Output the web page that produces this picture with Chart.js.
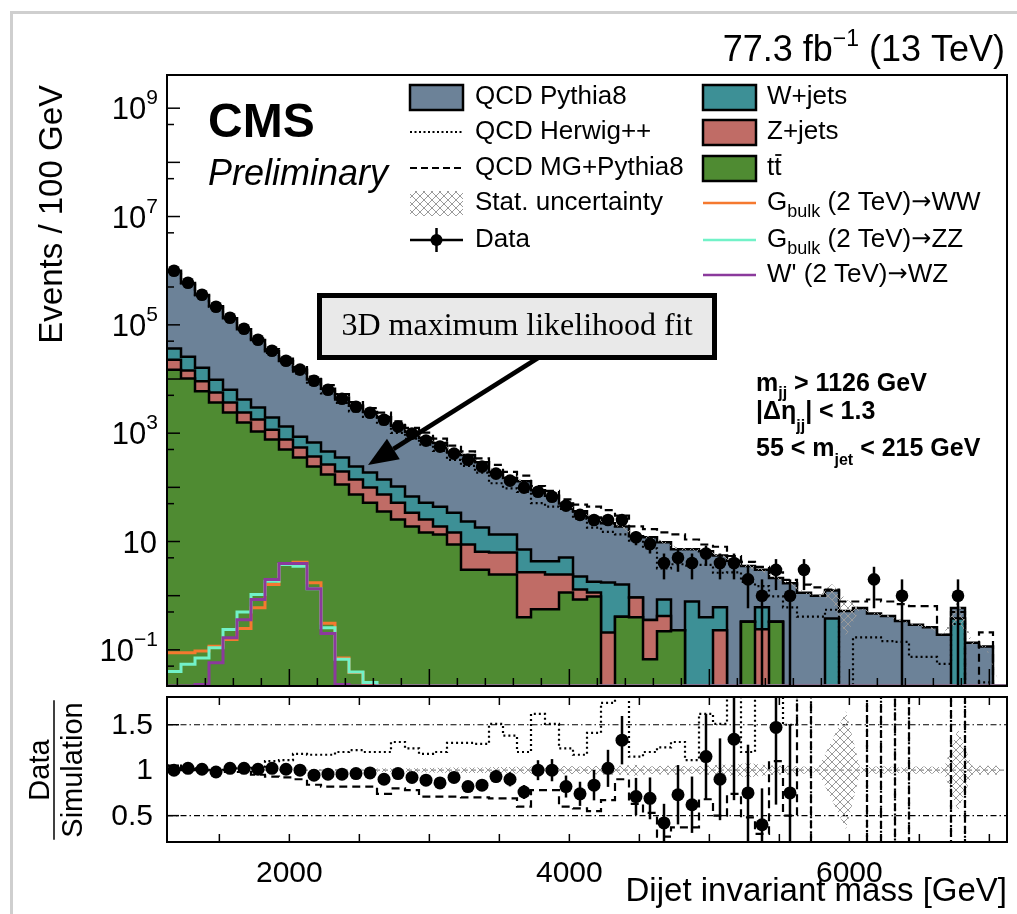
<!DOCTYPE html>
<html>
<head>
<meta charset="utf-8">
<script src="https://cdn.jsdelivr.net/npm/chart.js@4.4.1/dist/chart.umd.min.js"></script>
<style>
  html, body { margin: 0; padding: 0; background: #fff; }
  #wrap { position: relative; width: 1017px; height: 914px; overflow: hidden; background: #fff; }
  #wrap canvas { position: absolute; left: 0; }
  #main { top: 0; }
  #ratio { top: 690px; }
  .edge { position: absolute; background: #cfcfcf; }
</style>
</head>
<body>
<div id="wrap">
  <div class="edge" style="left:10px; top:11px; width:1007px; height:3px;"></div>
  <div class="edge" style="left:10px; top:11px; width:3px; height:903px;"></div>
  <canvas id="main" width="1017" height="700"></canvas>
  <canvas id="ratio" width="1017" height="224"></canvas>
</div>
<script>
const SANS = '"Liberation Sans", Arial, Helvetica, sans-serif'
const SERIF = '"Liberation Serif", "Times New Roman", serif'
const ARROW = '"DejaVu Sans", sans-serif'

// 100 GeV bins from the m_jj threshold
const massMin = 1126
const massMax = 7126
const binWidth = 100
const binLow = Array.from({ length: 60 }, (_, i) => massMin + binWidth * i)
const centers = binLow.map(m => m + binWidth / 2)

const dataCounts = [
  1000000, 598000, 359000, 216000, 135000, 84700, 53100, 33300, 21800, 14900,
  9300, 6350, 4330, 3080, 2390, 1770, 1320, 980, 728, 564,
  419, 324, 241, 179, 133, 99, 83, 67, 46, 31,
  25, 25, 25, 12, 9, 4, 5, 4, 6, 4,
  4, 2, 1, 3, 1, 3, 0, 0, 0, 0,
  2, 0, 1, 0, 0, 0, 1, 0, 0, 0
]

const qcdPythia8 = [
  963000, 564000, 339000, 210000, 126000, 78800, 49500, 30700, 20300, 14000,
  9130, 6140, 4150, 2960, 2270, 1830, 1270, 997, 766, 612,
  421, 372, 271, 179, 135, 123, 84, 66, 45, 34,
  26, 20, 17.4, 11.6, 11.6, 8.8, 7.0, 6.4, 6.2, 4.9,
  4.4, 3.2, 2.4, 1.8, 1.7, 1.13, 1.0, 0.86, 0.52, 0.59,
  0.47, 0.42, 0.34, 0.29, 0.26, 0.19, 0.21, 0.135, 0.115, 0
]

const wJets = [
  13600, 11600, 7100, 4100, 2700, 1770, 1190, 780, 560, 320,
  300, 194, 159, 103, 89, 65, 52, 34, 26.5, 25,
  19.3, 14.6, 11.6, 7.2, 7.2, 4.4, 1.6, 1.84, 2.6, 0.96,
  0.65, 1.54, 1.2, 0, 0, 0.43, 0, 0.78, 0.40, 0.38,
  0, 0, 0.37, 0, 0, 0, 0, 0.38, 0, 0,
  0, 0, 0, 0, 0, 0, 0.38, 0, 0, 0
]

const zJets = [
  7900, 4100, 3150, 1940, 1270, 830, 710, 398, 264, 187,
  128, 92, 83, 65, 47, 38, 26.5, 15.1, 10.8, 5.4,
  5.9, 5.8, 3.5, 3.84, 3.84, 2.3, 2.14, 1.9, 1.31, 0.45,
  0.18, 0.21, 0, 0.53, 0.29, 0.2, 0, 0, 0, 0.23,
  0, 0, 0.24, 0, 0, 0, 0, 0, 0, 0,
  0, 0, 0, 0, 0, 0, 0, 0, 0, 0
]

const ttbar = [
  14900, 10200, 5930, 3670, 2400, 1570, 1070, 762, 498, 355,
  242, 172, 113, 74, 52, 36, 25.5, 18.9, 14.7, 13.5,
  8.8, 3.0, 3.0, 2.46, 2.46, 0.40, 0.56, 0.56, 1.15, 0.85,
  0.97, 0, 0.41, 0.40, 0.067, 0.22, 0.23, 0, 0, 0,
  0, 0.33, 0, 0.33, 0, 0, 0, 0, 0, 0,
  0, 0, 0, 0, 0, 0, 0, 0, 0, 0
]

const qcdHerwig = [
  952000, 581000, 352000, 216000, 132000, 83000, 51000, 30300, 19600, 12600,
  7950, 5430, 3610, 2520, 1990, 1475, 1010, 790, 617, 470,
  322, 249, 187, 119, 96, 82, 51, 44, 40, 26.5,
  18, 15, 13.5, 10.4, 7.5, 3.2, 3.8, 3.6, 3.7, 2.65,
  2.7, 1.8, 1.5, 0.97, 0.61, 0.41, 0.41, 0.55, 0, 0.17,
  0.17, 0.145, 0.14, 0.074, 0.074, 0.055, 0.3, 0, 0.025, 0
]

const qcdMadgraph = [
  952000, 598000, 359000, 223000, 138000, 86400, 55900, 35800, 23700, 16600,
  11070, 7740, 5280, 3760, 2910, 2390, 1650, 1256, 1025, 794,
  590, 463, 344, 259, 193, 165, 106, 86, 60, 48,
  44, 38, 30, 19, 17, 14.7, 13.5, 10.9, 8.8, 8.0,
  5.4, 4.2, 3.4, 2.7, 1.95, 1.6, 1.42, 1.3, 0.78, 0.78,
  0.85, 0.78, 0.7, 0.64, 0.64, 0.19, 0.5, 0, 0.21, 0
]

// relative MC statistical uncertainty per bin
const statUnc = [
  0.002, 0.002, 0.003, 0.003, 0.004, 0.005, 0.006, 0.007, 0.008, 0.01,
  0.01, 0.012, 0.014, 0.015, 0.017, 0.02, 0.02, 0.022, 0.025, 0.027,
  0.03, 0.03, 0.03, 0.035, 0.035, 0.04, 0.04, 0.04, 0.045, 0.04,
  0.045, 0.05, 0.05, 0.06, 0.04, 0.05, 0.05, 0.04, 0.05, 0.06,
  0.06, 0.08, 0.06, 0.05, 0.05, 0.04, 0.02, 0.33, 0.65, 0.03,
  0.04, 0.04, 0.03, 0.04, 0.04, 0.03, 0.45, 0.05, 0.05, 0.05
]

const bulkGravWW = [
  0.088, 0.088, 0.095, 0.117, 0.156, 0.248, 0.60, 1.61, 3.77, 4.15,
  1.73, 0.31, 0.071, 0.038, 0.023, 0, 0, 0, 0, 0,
  0, 0, 0, 0, 0, 0, 0, 0, 0, 0,
  0, 0, 0, 0, 0, 0, 0, 0, 0, 0,
  0, 0, 0, 0, 0, 0, 0, 0, 0, 0,
  0, 0, 0, 0, 0, 0, 0, 0, 0, 0
]

const bulkGravZZ = [
  0.040, 0.054, 0.071, 0.109, 0.238, 0.50, 1.05, 1.85, 3.77, 3.50,
  1.34, 0.256, 0.067, 0.039, 0.025, 0, 0, 0, 0, 0,
  0, 0, 0, 0, 0, 0, 0, 0, 0, 0,
  0, 0, 0, 0, 0, 0, 0, 0, 0, 0,
  0, 0, 0, 0, 0, 0, 0, 0, 0, 0,
  0, 0, 0, 0, 0, 0, 0, 0, 0, 0
]

const wprimeWZ = [
  0, 0, 0.023, 0.058, 0.167, 0.36, 0.85, 1.99, 3.93, 3.93,
  1.34, 0.20, 0.023, 0, 0, 0, 0, 0, 0, 0,
  0, 0, 0, 0, 0, 0, 0, 0, 0, 0,
  0, 0, 0, 0, 0, 0, 0, 0, 0, 0,
  0, 0, 0, 0, 0, 0, 0, 0, 0, 0,
  0, 0, 0, 0, 0, 0, 0, 0, 0, 0
]

const ratioData = [
  1.0, 1.02, 1.01, 0.98, 1.02, 1.02, 1.01, 1.02, 1.01, 1.0,
  0.945, 0.956, 0.956, 0.963, 0.97, 0.90, 0.963, 0.92, 0.89, 0.86,
  0.92, 0.82, 0.835, 0.93, 0.90, 0.76, 1.0, 1.0, 0.82, 0.74,
  0.835, 1.02, 1.33, 0.71, 0.69, 0.42, 0.73, 0.62, 1.15, 0.90,
  1.34, 0.75, 0.40, 1.47, 0.75, null, null, null, null, null,
  null, null, null, null, null, null, null, null, null, null
]

const ratioHerwig = [
  1.05, 1.03, 1.02, 1.0, 1.02, 1.02, 1.04, 1.10, 1.11, 1.18,
  1.17, 1.17, 1.20, 1.22, 1.20, 1.20, 1.31, 1.24, 1.18, 1.20,
  1.30, 1.30, 1.29, 1.51, 1.38, 1.20, 1.62, 1.51, 1.24, 1.17,
  1.41, 1.74, 1.9, 1.15, 1.20, 1.25, 1.31, 1.11, 1.62, 1.51,
  1.9, 1.2, 1.9, 1.9, 1.5, 1.9, 0, 0, 0, 0,
  1.9, 0, 1.9, 0, 0, 0, 1.9, 0, 0, 0
]

const ratioMadgraph = [
  1.05, 1.0, 1.0, 0.97, 0.98, 0.98, 0.95, 0.93, 0.92, 0.90,
  0.84, 0.82, 0.82, 0.82, 0.82, 0.74, 0.80, 0.78, 0.71, 0.71,
  0.71, 0.70, 0.70, 0.69, 0.69, 0.60, 0.78, 0.78, 0.60, 0.58,
  0.55, 0.67, 0.9, 0.63, 0.53, 0.27, 0.37, 0.37, 0.68, 0.5,
  0.74, 0.48, 0.3, 1.1, 0.5, 1.9, 0, 0, 0, 0,
  1.9, 0, 1.9, 0, 0, 0, 1.9, 0, 0, 0
]

const decadeLabels = [9, 7, 5, 3, 1, -1]
const xLabelTicks = [2000, 4000, 6000]
const ratioTicks = [0.5, 1, 1.5]

const yMin = 0.0215
const yMax = 4.1e9
const ratioMin = 0.21
const ratioMax = 1.805

const colors = {
  qcd: '#6c8298',
  wjets: '#3d9096',
  zjets: '#c06c66',
  ttbar: '#4f8b32',
  ww: '#f5792f',
  zz: '#72f2c8',
  wz: '#8b3a9c',
  box: '#e9e9e9'
}

Chart.defaults.font.family = SANS

// cumulative stack tops, bottom to top: ttbar, Z+jets, W+jets, QCD
const stackZ = ttbar.map((v, i) => v + zJets[i])
const stackW = stackZ.map((v, i) => v + wJets[i])
const stackAll = stackW.map((v, i) => v + qcdPythia8[i])

function stepLine (values, floor) {
  const pts = []
  values.forEach((v, i) => {
    const y = floor === undefined ? v : (v > 0 ? v : floor)
    pts.push({ x: binLow[i], y }, { x: binLow[i] + binWidth, y })
  })
  return pts
}

function makeHatch (canvas) {
  const tile = document.createElement('canvas')
  tile.width = 8
  tile.height = 8
  const g = tile.getContext('2d')
  g.strokeStyle = '#9a9a9a'
  g.lineWidth = 1
  g.beginPath()
  g.moveTo(0, 0); g.lineTo(8, 8)
  g.moveTo(8, 0); g.lineTo(0, 8)
  g.stroke()
  return canvas.getContext('2d').createPattern(tile, 'repeat')
}

function richText (ctx, x, y, parts, align) {
  let total = 0
  parts.forEach(p => {
    ctx.font = p.font
    p.w = ctx.measureText(p.t).width
    total += p.w
  })
  let cx = align === 'right' ? x - total : align === 'center' ? x - total / 2 : x
  parts.forEach(p => {
    ctx.font = p.font
    ctx.fillText(p.t, cx, y + (p.dy || 0))
    cx += p.w
  })
  return total
}

function strokeLine (ctx, x1, y1, x2, y2) {
  ctx.beginPath()
  ctx.moveTo(x1, y1)
  ctx.lineTo(x2, y2)
  ctx.stroke()
}

const mainCanvas = document.getElementById('main')
const ratioCanvas = document.getElementById('ratio')
const hatchMain = makeHatch(mainCanvas)
const hatchRatio = makeHatch(ratioCanvas)

const histStyle = (color, order) => ({
  borderColor: '#000',
  borderWidth: 2.5,
  backgroundColor: color,
  fill: 'start',
  pointRadius: 0,
  order
})

const lineStyle = (color, dash, width, order) => ({
  borderColor: color,
  borderWidth: width,
  borderDash: dash,
  fill: false,
  pointRadius: 0,
  order
})

const mainDatasets = [
  { label: 'QCD Pythia8', data: stepLine(stackAll, yMin), ...histStyle(colors.qcd, 10) },
  { label: 'W+jets', data: stepLine(stackW, yMin), ...histStyle(colors.wjets, 9) },
  { label: 'Z+jets', data: stepLine(stackZ, yMin), ...histStyle(colors.zjets, 8) },
  { label: 'ttbar', data: stepLine(ttbar, yMin), ...histStyle(colors.ttbar, 7) },
  {
    label: 'Stat. uncertainty',
    data: centers.map((c, i) => ({ x: c, y: stackAll[i] > 0 ? stackAll[i] * (1 + statUnc[i]) : yMin })),
    borderWidth: 0,
    backgroundColor: hatchMain,
    fill: '+1',
    pointRadius: 0,
    order: 6
  },
  {
    label: 'stat low',
    data: centers.map((c, i) => ({ x: c, y: stackAll[i] * (1 - statUnc[i]) > yMin ? stackAll[i] * (1 - statUnc[i]) : yMin })),
    borderWidth: 0,
    fill: false,
    pointRadius: 0,
    order: 6
  },
  { label: 'QCD Herwig++', data: stepLine(qcdHerwig, yMin), ...lineStyle('#000', [2, 3], 2.2, 4) },
  { label: 'QCD MG+Pythia8', data: stepLine(qcdMadgraph, yMin), ...lineStyle('#000', [8, 5], 2.2, 4) },
  { label: 'Gbulk WW', data: stepLine(bulkGravWW, yMin), ...lineStyle(colors.ww, [], 3, 3) },
  { label: 'Gbulk ZZ', data: stepLine(bulkGravZZ, yMin), ...lineStyle(colors.zz, [], 3, 2) },
  { label: "W' WZ", data: stepLine(wprimeWZ, yMin), ...lineStyle(colors.wz, [], 3, 1) },
  {
    label: 'Data',
    data: centers.map((c, i) => ({ x: c, y: dataCounts[i] > 0 ? dataCounts[i] : null })),
    showLine: false,
    pointRadius: 6.3,
    pointBackgroundColor: '#000',
    pointBorderWidth: 0,
    order: 0
  }
]

function drawLegend (ctx) {
  const font = `26px ${SANS}`
  const sub = `18px ${SANS}`
  const arrow = `24px ${ARROW}`
  const rows = [97, 132, 168, 203, 240, 275]
  const c1 = 410
  const c2 = 703
  const symW = 53
  const t1 = 475
  const t2 = 767

  const fillBox = (x, yc, fill) => {
    ctx.fillStyle = fill
    ctx.fillRect(x, yc - 12, symW, 25)
    ctx.lineWidth = 2.5
    ctx.strokeStyle = '#000'
    ctx.setLineDash([])
    ctx.strokeRect(x, yc - 12, symW, 25)
  }
  const lineSym = (x, yc, color, dash, width) => {
    ctx.strokeStyle = color
    ctx.lineWidth = width
    ctx.setLineDash(dash)
    strokeLine(ctx, x, yc, x + symW, yc)
    ctx.setLineDash([])
  }

  fillBox(c1, rows[0], colors.qcd)
  lineSym(c1, rows[1], '#000', [2, 2.5], 2)
  lineSym(c1, rows[2], '#000', [7, 4], 2)
  ctx.fillStyle = hatchMain
  ctx.fillRect(c1, rows[3] - 12, symW, 25)
  lineSym(c1, rows[4], '#000', [], 2.5)
  strokeLine(ctx, c1 + symW / 2, rows[4] - 12, c1 + symW / 2, rows[4] + 12)
  ctx.fillStyle = '#000'
  ctx.beginPath()
  ctx.arc(c1 + symW / 2, rows[4], 6, 0, Math.PI * 2)
  ctx.fill()

  fillBox(c2, rows[0], colors.wjets)
  fillBox(c2, rows[1], colors.zjets)
  fillBox(c2, rows[2], colors.ttbar)
  lineSym(c2, rows[3], colors.ww, [], 2.5)
  lineSym(c2, rows[4], colors.zz, [], 2.5)
  lineSym(c2, rows[5], colors.wz, [], 2.5)

  ctx.fillStyle = '#000'
  ctx.textBaseline = 'middle'
  ctx.font = font
  ctx.fillText('QCD Pythia8', t1, rows[0])
  ctx.fillText('QCD Herwig++', t1, rows[1])
  ctx.fillText('QCD MG+Pythia8', t1, rows[2])
  ctx.fillText('Stat. uncertainty', t1, rows[3])
  ctx.fillText('Data', t1, rows[4])

  ctx.fillText('W+jets', t2, rows[0])
  ctx.fillText('Z+jets', t2, rows[1])
  ctx.fillText('tt', t2, rows[2])
  const tw = ctx.measureText('t').width
  const ttw = ctx.measureText('tt').width
  ctx.strokeStyle = '#000'
  ctx.lineWidth = 1.8
  strokeLine(ctx, t2 + tw + 1, rows[2] - 13, t2 + ttw, rows[2] - 13)

  richText(ctx, t2, rows[3], [{ t: 'G', font }, { t: 'bulk', font: sub, dy: 9 }, { t: ' (2 TeV)', font }, { t: '\u2192', font: arrow }, { t: 'WW', font }])
  richText(ctx, t2, rows[4], [{ t: 'G', font }, { t: 'bulk', font: sub, dy: 9 }, { t: ' (2 TeV)', font }, { t: '\u2192', font: arrow }, { t: 'ZZ', font }])
  richText(ctx, t2, rows[5], [{ t: "W' (2 TeV)", font }, { t: '\u2192', font: arrow }, { t: 'WZ', font }])
}

function drawFitNote (ctx) {
  // boxed note with an arrow pointing at the stacked backgrounds
  ctx.fillStyle = colors.box
  ctx.fillRect(319.5, 295.5, 395, 62)
  ctx.strokeStyle = '#000'
  ctx.lineWidth = 5
  ctx.setLineDash([])
  ctx.strokeRect(319.5, 295.5, 395, 62)
  ctx.fillStyle = '#000'
  ctx.textAlign = 'center'
  ctx.textBaseline = 'middle'
  ctx.font = `32px ${SERIF}`
  ctx.fillText('3D maximum likelihood fit', 517, 327)
  ctx.textAlign = 'left'

  const x0 = 538
  const y0 = 358
  const x1 = 368
  const y1 = 465
  const ang = Math.atan2(y1 - y0, x1 - x0)
  const headLen = 30
  const headHalf = 12
  const bx = x1 - headLen * Math.cos(ang)
  const by = y1 - headLen * Math.sin(ang)
  ctx.lineWidth = 4.5
  strokeLine(ctx, x0, y0, bx, by)
  ctx.beginPath()
  ctx.moveTo(x1, y1)
  ctx.lineTo(bx + headHalf * Math.sin(ang), by - headHalf * Math.cos(ang))
  ctx.lineTo(bx - headHalf * Math.sin(ang), by + headHalf * Math.cos(ang))
  ctx.closePath()
  ctx.fill()
}

const mainDecor = {
  id: 'mainDecor',
  afterDatasetsDraw (chart) {
    const { ctx, chartArea: a, scales: { x, y } } = chart
    ctx.save()
    ctx.beginPath()
    ctx.rect(a.left, a.top, a.right - a.left, a.bottom - a.top)
    ctx.clip()
    ctx.strokeStyle = '#000'
    ctx.lineWidth = 2.5
    dataCounts.forEach((n, i) => {
      if (n <= 0) return
      const px = x.getPixelForValue(centers[i])
      const s = Math.sqrt(n)
      const top = y.getPixelForValue(n + s)
      const bottom = n - s > 0 ? y.getPixelForValue(n - s) : a.bottom
      strokeLine(ctx, px, top, px, bottom)
    })
    ctx.restore()

    ctx.save()
    ctx.strokeStyle = '#000'
    ctx.lineWidth = 1.5
    for (let m = 1200; m < massMax; m += 200) {
      const px = x.getPixelForValue(m)
      const len = m % 1000 === 0 ? 17 : 8
      strokeLine(ctx, px, a.bottom, px, a.bottom - len)
    }
    for (let e = -2; e <= 9; e++) {
      const major = Math.pow(10, e)
      const minor = 5 * major
      if (major > yMin) {
        const py = y.getPixelForValue(major)
        strokeLine(ctx, a.left, py, a.left + 13, py)
      }
      if (minor > yMin && minor < yMax) {
        const py = y.getPixelForValue(minor)
        strokeLine(ctx, a.left, py, a.left + 7, py)
      }
    }
    ctx.lineWidth = 2
    ctx.strokeRect(a.left, a.top, a.right - a.left, a.bottom - a.top)
    ctx.restore()
  },
  afterDraw (chart) {
    const { ctx, scales: { y } } = chart
    ctx.save()
    ctx.fillStyle = '#000'
    ctx.textBaseline = 'alphabetic'

    richText(ctx, 1005, 61, [
      { t: '77.3 fb', font: `36px ${SANS}` },
      { t: '\u22121', font: `23px ${SANS}`, dy: -15 },
      { t: ' (13 TeV)', font: `36px ${SANS}` }
    ], 'right')

    ctx.font = `bold 48px ${SANS}`
    ctx.fillText('CMS', 208, 137)
    ctx.font = `italic 36px ${SANS}`
    ctx.fillText('Preliminary', 208, 185)

    decadeLabels.forEach(e => {
      const py = y.getPixelForValue(Math.pow(10, e)) + 11
      if (e === 1) {
        richText(ctx, 157, py, [{ t: '10', font: `31px ${SANS}` }], 'right')
      } else {
        const exp = e < 0 ? '\u2212' + String(-e) : String(e)
        richText(ctx, 158, py, [{ t: '10', font: `31px ${SANS}` }, { t: exp, font: `21px ${SANS}`, dy: -15 }], 'right')
      }
    })

    ctx.save()
    ctx.translate(62, 85)
    ctx.rotate(-Math.PI / 2)
    ctx.textAlign = 'right'
    ctx.font = `33px ${SANS}`
    ctx.fillText('Events / 100 GeV', 0, 0)
    ctx.restore()

    const bold = `bold 25px ${SANS}`
    const sub = `bold 16px ${SANS}`
    richText(ctx, 756, 391, [{ t: 'm', font: bold }, { t: 'jj', font: sub, dy: 7 }, { t: ' > 1126 GeV', font: bold }])
    richText(ctx, 756, 419, [{ t: '|\u0394\u03b7', font: bold }, { t: 'jj', font: sub, dy: 12 }, { t: '| < 1.3', font: bold }])
    richText(ctx, 756, 456, [{ t: '55 < m', font: bold }, { t: 'jet', font: sub, dy: 9 }, { t: ' < 215 GeV', font: bold }])

    drawLegend(ctx)
    drawFitNote(ctx)
    ctx.restore()
  }
}

const mainChart = new Chart(mainCanvas, {
  type: 'line',
  data: { datasets: mainDatasets },
  options: {
    responsive: false,
    animation: false,
    events: [],
    layout: { autoPadding: false, padding: { left: 0, right: 10, top: 75, bottom: 0 } },
    plugins: { legend: { display: false }, tooltip: { enabled: false } },
    elements: { line: { tension: 0 } },
    scales: {
      x: {
        type: 'linear',
        min: massMin,
        max: massMax,
        grid: { display: false },
        border: { display: false },
        ticks: { display: false },
        afterFit: s => { s.height = 14 }
      },
      y: {
        type: 'logarithmic',
        min: yMin,
        max: yMax,
        grid: { display: false },
        border: { display: false },
        ticks: { display: false },
        afterFit: s => { s.width = 167 }
      }
    }
  },
  plugins: [mainDecor]
})

const ratioDatasets = [
  {
    label: 'Stat. uncertainty',
    data: centers.map((c, i) => ({ x: c, y: 1 + statUnc[i] })),
    borderWidth: 0,
    backgroundColor: hatchRatio,
    fill: '+1',
    pointRadius: 0,
    order: 5
  },
  {
    label: 'stat low',
    data: centers.map((c, i) => ({ x: c, y: 1 - statUnc[i] })),
    borderWidth: 0,
    fill: false,
    pointRadius: 0,
    order: 5
  },
  { label: 'Data / Herwig++', data: stepLine(ratioHerwig), ...lineStyle('#000', [2, 3], 2.2, 3) },
  { label: 'Data / MG+Pythia8', data: stepLine(ratioMadgraph), ...lineStyle('#000', [8, 5], 2.2, 3) },
  {
    label: 'Data / Simulation',
    data: centers.map((c, i) => ({ x: c, y: ratioData[i] })),
    showLine: false,
    pointRadius: 6.5,
    pointBackgroundColor: '#000',
    pointBorderWidth: 0,
    order: 0
  }
]

const ratioDecor = {
  id: 'ratioDecor',
  beforeDatasetsDraw (chart) {
    const { ctx, chartArea: a, scales: { y } } = chart
    ctx.save()
    ctx.lineWidth = 1.2
    ratioTicks.forEach(v => {
      const py = y.getPixelForValue(v)
      ctx.strokeStyle = v === 1 ? '#8c8c8c' : '#000'
      ctx.setLineDash(v === 1 ? [5, 3] : [6, 3, 1.5, 3])
      strokeLine(ctx, a.left, py, a.right, py)
    })
    ctx.restore()
  },
  afterDatasetsDraw (chart) {
    const { ctx, chartArea: a, scales: { x, y } } = chart
    ctx.save()
    ctx.beginPath()
    ctx.rect(a.left, a.top, a.right - a.left, a.bottom - a.top)
    ctx.clip()
    ctx.strokeStyle = '#000'
    ctx.lineWidth = 2.5
    ratioData.forEach((r, i) => {
      if (r === null || dataCounts[i] <= 0) return
      const err = r / Math.sqrt(dataCounts[i])
      const px = x.getPixelForValue(centers[i])
      strokeLine(ctx, px, y.getPixelForValue(r + err), px, y.getPixelForValue(r - err))
    })
    ctx.restore()

    ctx.save()
    ctx.strokeStyle = '#000'
    ctx.lineWidth = 1.5
    for (let m = 1500; m < massMax; m += 500) {
      const px = x.getPixelForValue(m)
      strokeLine(ctx, px, a.bottom, px, a.bottom - 8)
      strokeLine(ctx, px, a.top, px, a.top + 8)
    }
    ratioTicks.forEach(v => {
      const py = y.getPixelForValue(v)
      strokeLine(ctx, a.left, py, a.left + 12, py)
    })
    ctx.lineWidth = 2
    ctx.strokeRect(a.left, a.top, a.right - a.left, a.bottom - a.top)
    ctx.restore()
  },
  afterDraw (chart) {
    const { ctx, scales: { y } } = chart
    ctx.save()
    ctx.fillStyle = '#000'
    ctx.strokeStyle = '#000'

    // ratio tick labels
    ctx.font = `30px ${SANS}`
    ctx.textAlign = 'right'
    ctx.textBaseline = 'middle'
    ratioTicks.forEach(v => {
      ctx.fillText(String(v), 153, y.getPixelForValue(v) + 1)
    })

    // Data / Simulation axis title
    const cy = 80
    ctx.font = `29px ${SANS}`
    const barLen = ctx.measureText('Simulation').width + 4
    ctx.translate(0, cy)
    ctx.rotate(-Math.PI / 2)
    ctx.textAlign = 'center'
    ctx.textBaseline = 'alphabetic'
    ctx.fillText('Data', 0, 49)
    ctx.fillText('Simulation', 0, 82)
    ctx.lineWidth = 1.5
    strokeLine(ctx, -barLen / 2, 54, barLen / 2, 54)
    ctx.restore()
  }
}

const ratioChart = new Chart(ratioCanvas, {
  type: 'line',
  data: { datasets: ratioDatasets },
  options: {
    responsive: false,
    animation: false,
    events: [],
    layout: { autoPadding: false, padding: { left: 0, right: 10, top: 7, bottom: 0 } },
    plugins: { legend: { display: false }, tooltip: { enabled: false } },
    elements: { line: { tension: 0 } },
    scales: {
      x: {
        type: 'linear',
        min: massMin,
        max: massMax,
        grid: { display: false },
        border: { display: false },
        afterBuildTicks: s => { s.ticks = xLabelTicks.map(v => ({ value: v })) },
        ticks: {
          color: '#000',
          font: { family: SANS, size: 30 },
          padding: 6,
          maxRotation: 0,
          autoSkip: false,
          callback: v => String(v)
        },
        title: {
          display: true,
          text: 'Dijet invariant mass [GeV]',
          align: 'end',
          color: '#000',
          font: { family: SANS, size: 33 },
          padding: { top: 0, bottom: 2 }
        },
        afterFit: s => { s.height = 72 }
      },
      y: {
        type: 'linear',
        min: ratioMin,
        max: ratioMax,
        grid: { display: false },
        border: { display: false },
        ticks: { display: false },
        afterFit: s => { s.width = 167 }
      }
    }
  },
  plugins: [ratioDecor]
})
</script>
</body>
</html>
